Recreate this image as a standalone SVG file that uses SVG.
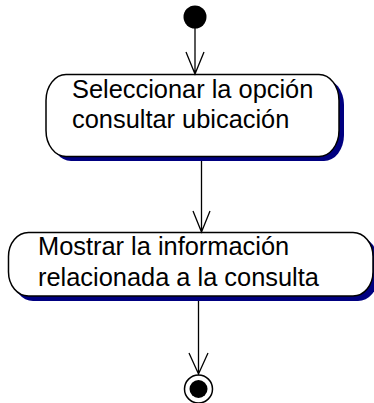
<svg xmlns="http://www.w3.org/2000/svg" width="374" height="403" viewBox="0 0 374 403">
<defs>
<style>
.shadow{fill:#000080;stroke:none}
.box{fill:#ffffff;stroke:#000000;stroke-width:1.5}
.lbl{font-family:"Liberation Sans",Arial,sans-serif;font-size:25.4px;fill:#000000}
.edge{fill:none;stroke:#000000;stroke-width:1.3}
</style>
</defs>
<rect width="374" height="403" fill="#ffffff"/>
<g id="start">
<circle cx="195" cy="17" r="11.5" fill="#000000"/>
</g>
<g id="node1">
<rect class="shadow" x="51" y="79" width="293" height="82" rx="20" ry="26"/>
<rect class="box" x="46" y="74.5" width="293" height="82" rx="20" ry="26"/>
<text class="lbl" x="72" y="98">Seleccionar la opción</text>
<text class="lbl" x="72" y="128">consultar ubicación</text>
</g>
<g id="node2">
<rect class="shadow" x="13" y="237" width="365" height="64" rx="20" ry="24"/>
<rect class="box" x="8.5" y="232.5" width="364.5" height="63.5" rx="20" ry="24"/>
<text class="lbl" x="38" y="255">Mostrar la información</text>
<text class="lbl" x="38" y="286">relacionada a la consulta</text>
</g>
<g id="end">
<circle cx="198.5" cy="389" r="14" fill="#ffffff" stroke="#000000" stroke-width="1.5"/>
<circle cx="198.5" cy="389" r="9" fill="#000000"/>
</g>
<g id="connectors">
<path class="edge" d="M195 28 V74 M186 52 L195 74 L204 52"/>
<path class="edge" d="M201.5 161 V232 M193 211 L201.5 232 L210 211"/>
<path class="edge" d="M198.5 301 V374 M189 353 L198.5 374 L208 353"/>
</g>
</svg>
